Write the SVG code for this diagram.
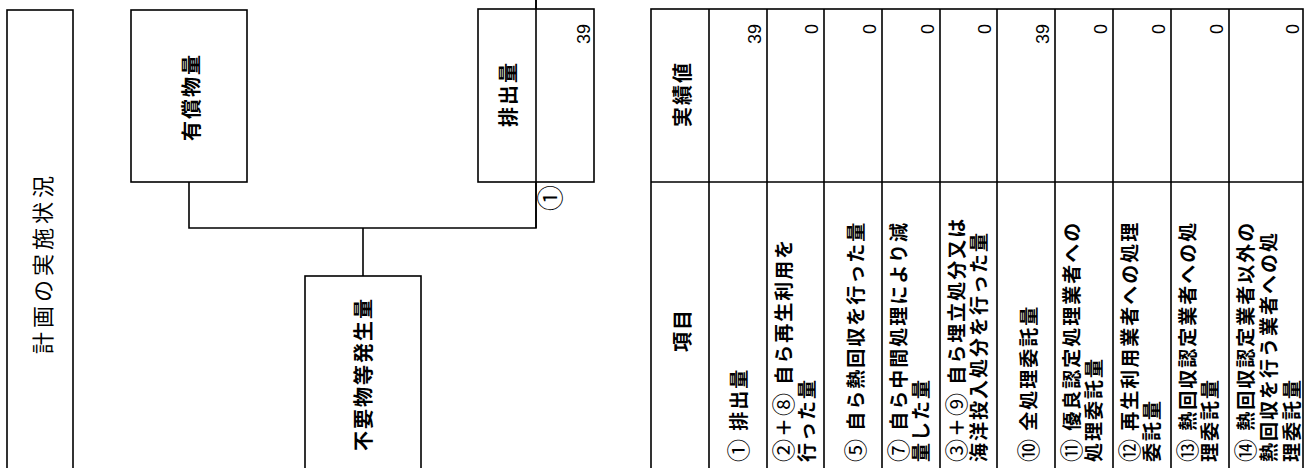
<svg xmlns="http://www.w3.org/2000/svg" width="1308" height="468" viewBox="0 0 1308 468">
<style>
.box{fill:#fff;stroke:#000;stroke-width:1.6}
.ln{stroke:#000;stroke-width:1.6;fill:none}
.jp{font-family:"Noto Sans CJK JP","Noto Sans",sans-serif;fill:#000}
.nd{font-size:20px;letter-spacing:2px;font-weight:bold}
.lb{font-size:19px;letter-spacing:2px;font-weight:bold}
.c{font-size:23px;font-weight:normal}
.num{font-family:"Liberation Sans",Arial,sans-serif;font-size:18px;fill:#000}
</style>
<rect width="1308" height="468" fill="#fff"/>
<g id="connectors">
<path class="ln" d="M189,182 V228 H536 V0"/>
<path class="ln" d="M363,228 V276"/>
</g>
<g id="title">
<rect class="box" x="7" y="10" width="66" height="470"/>
<text class="jp" font-size="22" letter-spacing="4" text-anchor="middle" dominant-baseline="central" transform="translate(41,263) rotate(-90)">計画の実施状況</text>
</g>
<g id="node-yushobutsu">
<rect class="box" x="131" y="10" width="116" height="172"/>
<text class="jp nd" text-anchor="middle" dominant-baseline="central" transform="translate(190,97) rotate(-90)">有償物量</text>
</g>
<g id="node-haishutsu">
<rect class="box" x="478" y="9" width="116" height="173"/>
<text class="jp nd" text-anchor="middle" dominant-baseline="central" transform="translate(507,94) rotate(-90)">排出量</text>
<text class="num" text-anchor="end" transform="translate(590,24) rotate(-90)">39</text>
<text class="jp" font-size="26" text-anchor="middle" dominant-baseline="central" transform="translate(548,198) rotate(-90)">①</text>
</g>
<path class="ln" d="M536,0 V228"/>
<g id="node-fuyobutsu">
<rect class="box" x="305" y="276" width="116" height="210"/>
<text class="jp nd" text-anchor="middle" dominant-baseline="central" transform="translate(362,374) rotate(-90)">不要物等発生量</text>
</g>
<g id="table">
<rect class="box" x="651" y="9" width="652" height="480"/>
<path class="ln" d="M651,182 H1303 M709,9 V470 M767,9 V470 M824,9 V470 M882,9 V470 M940,9 V470 M997,9 V470 M1055,9 V470 M1113,9 V470 M1171,9 V470 M1229,9 V470"/>
<text class="jp nd" text-anchor="middle" dominant-baseline="central" transform="translate(681,94) rotate(-90)">実績値</text>
<text class="jp nd" text-anchor="middle" dominant-baseline="central" transform="translate(681,330) rotate(-90)">項目</text>
<g class="num" text-anchor="end">
<text transform="translate(761,24) rotate(-90)">39</text>
<text transform="translate(818,24) rotate(-90)">0</text>
<text transform="translate(876,24) rotate(-90)">0</text>
<text transform="translate(934,24) rotate(-90)">0</text>
<text transform="translate(991,24) rotate(-90)">0</text>
<text transform="translate(1049,24) rotate(-90)">39</text>
<text transform="translate(1107,24) rotate(-90)">0</text>
<text transform="translate(1165,24) rotate(-90)">0</text>
<text transform="translate(1223,24) rotate(-90)">0</text>
<text transform="translate(1299,24) rotate(-90)">0</text>
</g>
<g class="jp lb" dominant-baseline="central">
<text transform="translate(737,462) rotate(-90)"><tspan class="c">①</tspan> 排出量</text>
<text transform="translate(782,462) rotate(-90)"><tspan class="c">②</tspan>＋<tspan class="c">⑧</tspan> 自ら再生利用を</text>
<text transform="translate(805,462) rotate(-90)">行った量</text>
<text transform="translate(854,462) rotate(-90)"><tspan class="c">⑤</tspan> 自ら熱回収を行った量</text>
<text transform="translate(897,462) rotate(-90)"><tspan class="c">⑦</tspan> 自ら中間処理により減</text>
<text transform="translate(919,462) rotate(-90)">量した量</text>
<text transform="translate(955,462) rotate(-90)"><tspan class="c">③</tspan>＋<tspan class="c">⑨</tspan> 自ら埋立処分又は</text>
<text transform="translate(977,462) rotate(-90)">海洋投入処分を行った量</text>
<text transform="translate(1027,462) rotate(-90)"><tspan class="c">⑩</tspan> 全処理委託量</text>
<text transform="translate(1070,462) rotate(-90)"><tspan class="c">⑪</tspan> 優良認定処理業者への</text>
<text transform="translate(1092,462) rotate(-90)">処理委託量</text>
<text transform="translate(1128,462) rotate(-90)"><tspan class="c">⑫</tspan> 再生利用業者への処理</text>
<text transform="translate(1150,462) rotate(-90)">委託量</text>
<text transform="translate(1186,462) rotate(-90)"><tspan class="c">⑬</tspan> 熱回収認定業者への処</text>
<text transform="translate(1208,462) rotate(-90)">理委託量</text>
<text transform="translate(1244,462) rotate(-90)"><tspan class="c">⑭</tspan> 熱回収認定業者以外の</text>
<text transform="translate(1267,462) rotate(-90)">熱回収を行う業者への処</text>
<text transform="translate(1290,462) rotate(-90)">理委託量</text>
</g>
</g>
</svg>
